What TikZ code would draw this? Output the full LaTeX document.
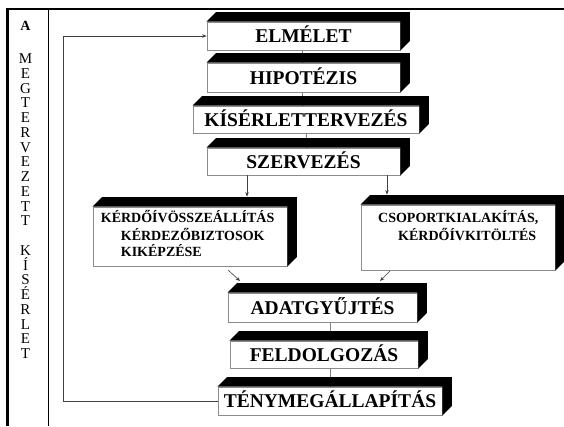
\documentclass[tikz,border=0pt]{standalone}
\usepackage{fontspec}
\setmainfont{Liberation Serif}
\usetikzlibrary{calc,arrows.meta}
\newcommand{\sidefaces}[2]{%
  \fill[black] (#1.north west) -- ++(#2,-#2) -- ($(#1.north east)+(#2,-#2)$) -- ($(#1.south east)+(#2,-#2)$) -- (#1.south east) -- (#1.north east) -- cycle;}
\begin{document}
\begin{tikzpicture}[x=1pt,y=-1pt,
  bigbox/.style={draw=black!45, line width=0.8pt, fill=white, inner sep=0pt, text height=13pt, text depth=0pt, font=\fontsize{19.5}{19.5}\selectfont\bfseries},
  smallbox/.style={draw=black!45, line width=0.8pt, fill=white, inner sep=0pt},
  smalltext/.style={anchor=base west, inner sep=0pt, font=\fontsize{14}{14}\selectfont\bfseries},
  letter/.style={anchor=base, inner sep=0pt, font=\fontsize{15}{15}\selectfont},
  conn/.style={black!50, line width=0.6pt},
  arr/.style={black!75, line width=0.6pt, -{Stealth[length=4.5pt,width=3.5pt]}}]
\useasboundingbox (0,0) rectangle (564,426);
\fill[white] (0,0) rectangle (564,426);

% table frame
\draw[line width=2.5pt] (6,9) -- (564,9);
\draw[line width=3pt] (7.5,7.75) -- (7.5,426);
\draw[line width=1pt] (48.5,9) -- (48.5,426);

% left column
\node[anchor=base, inner sep=0pt, font=\fontsize{14}{14}\selectfont\bfseries] (colA) at (25.5,30) {A};
\foreach \ch [count=\i from 0] in {M,E,G,T,E,R,V,E,Z,E,T,T}
  \node[letter] (m\i) at ({25.5},{63.5+14.75*\i}) {\ch};
\foreach \ch [count=\i from 0] in {K,Í,S,É,R,L,E,T}
  \node[letter] (k\i) at ({25.5},{63.5+14.75*(\i+13)}) {\ch};

% boxes
\node[bigbox, minimum width=193pt, minimum height=28pt] (elm) at (303.5,36) {ELMÉLET};
\node[bigbox, minimum width=193pt, minimum height=29pt] (hip) at (303.5,77.5) {HIPOTÉZIS};
\node[bigbox, minimum width=226pt, minimum height=27pt] (kis) at (306,119.5) {KÍSÉRLETTERVEZÉS};
\node[bigbox, minimum width=193pt, minimum height=27pt] (szer) at (303.5,161.5) {SZERVEZÉS};
\node[smallbox, minimum width=194pt, minimum height=59pt] (lbox) at (190,236.5) {};
\node[smallbox, minimum width=194pt, minimum height=65pt] (rbox) at (458,237.5) {};
\node[bigbox, minimum width=189pt, minimum height=29pt] (adat) at (322.5,307.5) {ADATGYŰJTÉS};
\node[bigbox, minimum width=188pt, minimum height=27pt] (feld) at (324,354.5) {FELDOLGOZÁS};
\node[bigbox, minimum width=224pt, minimum height=28pt] (teny) at (330,401) {TÉNYMEGÁLLAPÍTÁS};

\node[smalltext] (lt1) at (100.7,222.7) {KÉRDŐÍVÖSSZEÁLLÍTÁS};
\node[smalltext] (lt2) at (120.7,240) {KÉRDEZŐBIZTOSOK};
\node[smalltext] (lt3) at (120.7,256) {KIKÉPZÉSE};
\node[smalltext] (rt1) at (378,222) {CSOPORTKIALAKÍTÁS,};
\node[smalltext] (rt2) at (398,240) {KÉRDŐÍVKITÖLTÉS};

% helper coordinates
\coordinate (lp) at (63,36);
\coordinate (a1) at (247,0);
\coordinate (a2) at (387,0);
\coordinate (c1) at (302,0);
\coordinate (c2) at (306,0);
\coordinate (c3) at (330,0);
\coordinate (d1s) at (228,270);
\coordinate (d1e) at (240,281);
\coordinate (d2s) at (390,271);
\coordinate (d2e) at (380,281);

% connectors
\draw[conn] (elm.south -| c1) -- (hip.north -| c1);
\draw[conn] (hip.south -| c1) -- (kis.north -| c1);
\draw[conn] (kis.south -| c2) -- (szer.north -| c2);
\draw[conn] (adat.south -| c3) -- (feld.north -| c3);
\draw[conn] (feld.south -| c3) -- (teny.north -| c3);
\draw[arr] (szer.south -| a1) -- ($(lbox.north -| a1)+(0,-10)$);
\draw[arr] (szer.south -| a2) -- ($(rbox.north -| a2)+(0,-10)$);
\draw[arr] (d1s) -- (d1e);
\draw[arr] (d2s) -- (d2e);
\draw[arr] (teny.west) -| (lp) -- (elm.west);

% 3D faces
\sidefaces{elm}{9.5}
\sidefaces{hip}{9.5}
\sidefaces{kis}{9.5}
\sidefaces{szer}{9.5}
\sidefaces{lbox}{9.5}
\sidefaces{rbox}{9.5}
\sidefaces{adat}{9.5}
\sidefaces{feld}{9.5}
\sidefaces{teny}{9.5}
\end{tikzpicture}
\end{document}
